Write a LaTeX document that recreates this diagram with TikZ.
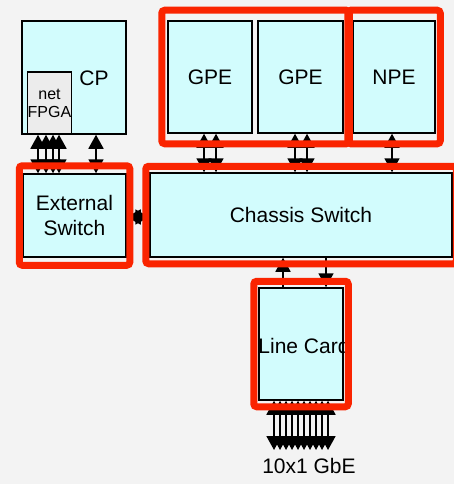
\documentclass[tikz,border=0pt]{standalone}
\usepackage{fontspec}
\setmainfont{Liberation Sans}
\usetikzlibrary{arrows.meta,fit}

\definecolor{boxfill}{RGB}{210,252,253}
\definecolor{fpgafill}{RGB}{236,236,236}
\definecolor{bggray}{RGB}{243,243,243}
\definecolor{hired}{RGB}{250,36,0}

\tikzset{
  card/.style={draw, line width=1.5pt, fill=boxfill, inner sep=0pt,
    font=\fontsize{21}{25}\selectfont},
  link/.style={line width=1.8pt, {Triangle[length=14pt,width=15pt]}-{Triangle[length=14pt,width=15pt]}},
  linkone/.style={line width=1.8pt, -{Triangle[length=14pt,width=15pt]}},
  hilite/.style={draw=hired, line width=7pt, rounded corners=3pt},
}

\begin{document}
\begin{tikzpicture}[x=1pt, y=-1pt]
    \fill[bggray] (0,0) rectangle (454,484);
    \clip (0,0) rectangle (454,484);

    % Control processor with its netFPGA
    \node[card, minimum width=104pt, minimum height=113pt] (cp) at (74,77.5) {};
    \node[font=\fontsize{21}{25}\selectfont] (cplabel) at (94,78) {CP};
    \node[card, fill=fpgafill, minimum width=43pt, minimum height=62pt, align=center,
      font=\fontsize{16}{18}\selectfont] (fpga) at (49.5,103) {net\\FPGA};

    % Processing engines
    \node[card, minimum width=84pt, minimum height=112pt] (gpeA) at (210,77) {GPE};
    \node[card, minimum width=85pt, minimum height=112pt] (gpeB) at (300.5,77) {GPE};
    \node[card, minimum width=82pt, minimum height=112pt] (npe) at (394,77) {NPE};

    % Switches
    \node[card, minimum width=103pt, minimum height=83pt, align=center] (ext) at (74.5,215.5) {External\\Switch};
    \node[card, minimum width=302pt, minimum height=84pt] (chassis) at (301,215) {Chassis Switch};

    % Line card
    \node[card, minimum width=84pt, minimum height=112pt] (line) at (301,344) {};
    \node[font=\fontsize{21}{25}\selectfont] (linelabel) at (304,346) {Line Card};
    \coordinate (gbeport) at (301,450);
    \node[font=\fontsize{21}{25}\selectfont] (gbe) at (309,466) {10x1 GbE};

    % Links CP -- external switch
    \foreach \x in {38,46,53,59,96} {
        \draw[link] (\x,0 |- cp.south) -- (\x,0 |- ext.north);
    }
    \draw[link] (ext.east |- 0,217) -- (chassis.west |- 0,217);

    % Links engines -- chassis switch
    \foreach \x in {204,216} {
        \draw[link] (\x,0 |- gpeA.south) -- (\x,0 |- chassis.north);
    }
    \foreach \x in {295,307} {
        \draw[link] (\x,0 |- gpeB.south) -- (\x,0 |- chassis.north);
    }
    \draw[link] (392,0 |- npe.south) -- (392,0 |- chassis.north);

    % Links chassis switch -- line card
    \draw[linkone] (283,0 |- line.north) -- (283,0 |- chassis.south);
    \draw[linkone] (326,0 |- chassis.south) -- (326,0 |- line.north);

    % 10 external ports
    \foreach \i in {0,...,9} {
        \draw[link] (274+6*\i,0 |- line.south) -- (274+6*\i,0 |- gbeport);
    }

    % Highlight frames
    \node[hilite, fit=(ext), inner xsep=3pt, inner ysep=7.5pt] (extmark) {};
    \node[hilite, fit=(chassis), inner xsep=3.5pt, inner ysep=6pt] (chassismark) {};
    \node[hilite, fit=(gpeA)(gpeB), inner xsep=5.5pt, inner ysep=10pt] (gpemark) {};
    \node[hilite, fit=(npe), inner xsep=4.5pt, inner ysep=10pt] (npemark) {};
    \node[hilite, fit=(line), inner xsep=4.5pt, inner ysep=6pt] (linemark) {};
\end{tikzpicture}
\end{document}
